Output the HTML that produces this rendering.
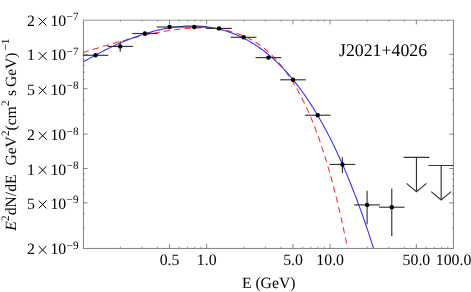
<!DOCTYPE html>
<html><head><meta charset="utf-8"><title>J2021+4026</title>
<style>html,body{margin:0;padding:0;background:#fff;}body{width:471px;height:292px;position:relative;overflow:hidden;font-family:'Liberation Serif', serif;}</style>
</head><body>
<svg width="471" height="292" viewBox="0 0 471 292" style="position:absolute;left:0;top:0;will-change:transform;text-rendering:geometricPrecision;font-family:'Liberation Serif', serif">
<rect x="0" y="0" width="471" height="292" fill="#fff"/>
<clipPath id="c"><rect x="83.2" y="20.0" width="370.3" height="228.3"/></clipPath>
<g clip-path="url(#c)" fill="none">
<path d="M83.20 52.49 L84.20 52.18 L85.20 51.86 L86.20 51.55 L87.20 51.24 L88.20 50.93 L89.20 50.62 L90.20 50.31 L91.20 50.00 L92.20 49.69 L93.20 49.39 L94.20 49.08 L95.20 48.78 L96.20 48.47 L97.20 48.17 L98.20 47.87 L99.20 47.57 L100.20 47.27 L101.20 46.97 L102.20 46.67 L103.20 46.37 L104.20 46.08 L105.20 45.78 L106.20 45.49 L107.20 45.20 L108.20 44.90 L109.20 44.61 L110.20 44.33 L111.20 44.04 L112.20 43.75 L113.20 43.47 L114.20 43.18 L115.20 42.90 L116.20 42.62 L117.20 42.34 L118.20 42.06 L119.20 41.79 L120.20 41.51 L121.20 41.24 L122.20 40.96 L123.20 40.69 L124.20 40.42 L125.20 40.16 L126.20 39.89 L127.20 39.63 L128.20 39.36 L129.20 39.10 L130.20 38.84 L131.20 38.59 L132.20 38.33 L133.20 38.08 L134.20 37.83 L135.20 37.58 L136.20 37.33 L137.20 37.08 L138.20 36.84 L139.20 36.60 L140.20 36.36 L141.20 36.12 L142.20 35.88 L143.20 35.65 L144.20 35.42 L145.20 35.19 L146.20 34.96 L147.20 34.74 L148.20 34.52 L149.20 34.30 L150.20 34.08 L151.20 33.87 L152.20 33.66 L153.20 33.45 L154.20 33.25 L155.20 33.04 L156.20 32.84 L157.20 32.65 L158.20 32.45 L159.20 32.26 L160.20 32.07 L161.20 31.89 L162.20 31.71 L163.20 31.53 L164.20 31.35 L165.20 31.18 L166.20 31.01 L167.20 30.85 L168.20 30.69 L169.20 30.53 L170.20 30.37 L171.20 30.22 L172.20 30.08 L173.20 29.93 L174.20 29.80 L175.20 29.66 L176.20 29.53 L177.20 29.40 L178.20 29.28 L179.20 29.17 L180.20 29.05 L181.20 28.94 L182.20 28.84 L183.20 28.74 L184.20 28.64 L185.20 28.55 L186.20 28.47 L187.20 28.39 L188.20 28.32 L189.20 28.25 L190.20 28.18 L191.20 28.12 L192.20 28.07 L193.20 28.02 L194.20 27.98 L195.20 27.95 L196.20 27.92 L197.20 27.89 L198.20 27.87 L199.20 27.86 L200.20 27.86 L201.20 27.86 L202.20 27.87 L203.20 27.88 L204.20 27.90 L205.20 27.93 L206.20 27.97 L207.20 28.01 L208.20 28.06 L209.20 28.12 L210.20 28.19 L211.20 28.26 L212.20 28.34 L213.20 28.43 L214.20 28.53 L215.20 28.64 L216.20 28.76 L217.20 28.88 L218.20 29.01 L219.20 29.16 L220.20 29.31 L221.20 29.47 L222.20 29.64 L223.20 29.82 L224.20 30.01 L225.20 30.21 L226.20 30.42 L227.20 30.65 L228.20 30.88 L229.20 31.12 L230.20 31.38 L231.20 31.64 L232.20 31.92 L233.20 32.21 L234.20 32.51 L235.20 32.83 L236.20 33.15 L237.20 33.49 L238.20 33.85 L239.20 34.21 L240.20 34.59 L241.20 34.98 L242.20 35.39 L243.20 35.81 L244.20 36.25 L245.20 36.70 L246.20 37.16 L247.20 37.64 L248.20 38.14 L249.20 38.65 L250.20 39.18 L251.20 39.72 L252.20 40.29 L253.20 40.86 L254.20 41.46 L255.20 42.07 L256.20 42.71 L257.20 43.36 L258.20 44.03 L259.20 44.71 L260.20 45.42 L261.20 46.15 L262.20 46.90 L263.20 47.67 L264.20 48.46 L265.20 49.27 L266.20 50.10 L267.20 50.95 L268.20 51.83 L269.20 52.73 L270.20 53.66 L271.20 54.60 L272.20 55.58 L273.20 56.57 L274.20 57.60 L275.20 58.64 L276.20 59.72 L277.20 60.82 L278.20 61.95 L279.20 63.10 L280.20 64.29 L281.20 65.50 L282.20 66.74 L283.20 68.02 L284.20 69.32 L285.20 70.65 L286.20 72.02 L287.20 73.41 L288.20 74.84 L289.20 76.31 L290.20 77.80 L291.20 79.34 L292.20 80.90 L293.20 82.51 L294.20 84.15 L295.20 85.82 L296.20 87.54 L297.20 89.29 L298.20 91.09 L299.20 92.92 L300.20 94.79 L301.20 96.71 L302.20 98.67 L303.20 100.67 L304.20 102.71 L305.20 104.80 L306.20 106.94 L307.20 109.12 L308.20 111.35 L309.20 113.63 L310.20 115.96 L311.20 118.33 L312.20 120.76 L313.20 123.24 L314.20 125.78 L315.20 128.36 L316.20 131.01 L317.20 133.71 L318.20 136.46 L319.20 139.28 L320.20 142.15 L321.20 145.08 L322.20 148.08 L323.20 151.13 L324.20 154.26 L325.20 157.44 L326.20 160.69 L327.20 164.01 L328.20 167.40 L329.20 170.86 L330.20 174.39 L331.20 177.99 L332.20 181.67 L333.20 185.42 L334.20 189.25 L335.20 193.15 L336.20 197.14 L337.20 201.21 L338.20 205.36 L339.20 209.59 L340.20 213.91 L341.20 218.32 L342.20 222.81 L343.20 227.40 L344.20 232.08 L345.20 236.85 L346.20 241.72 L347.20 246.69 L347.52 248.30" stroke="#ff2a2a" stroke-width="1.05" stroke-dasharray="6.3 4.18" stroke-dashoffset="0.4"/>
<path d="M83.20 62.02 L84.20 61.44 L85.20 60.86 L86.20 60.28 L87.20 59.71 L88.20 59.15 L89.20 58.59 L90.20 58.03 L91.20 57.47 L92.20 56.92 L93.20 56.37 L94.20 55.82 L95.20 55.28 L96.20 54.75 L97.20 54.21 L98.20 53.68 L99.20 53.16 L100.20 52.63 L101.20 52.12 L102.20 51.60 L103.20 51.09 L104.20 50.58 L105.20 50.08 L106.20 49.58 L107.20 49.09 L108.20 48.60 L109.20 48.11 L110.20 47.63 L111.20 47.15 L112.20 46.68 L113.20 46.21 L114.20 45.75 L115.20 45.29 L116.20 44.83 L117.20 44.38 L118.20 43.93 L119.20 43.49 L120.20 43.05 L121.20 42.61 L122.20 42.19 L123.20 41.76 L124.20 41.34 L125.20 40.93 L126.20 40.51 L127.20 40.11 L128.20 39.71 L129.20 39.31 L130.20 38.92 L131.20 38.53 L132.20 38.15 L133.20 37.78 L134.20 37.40 L135.20 37.04 L136.20 36.68 L137.20 36.32 L138.20 35.97 L139.20 35.62 L140.20 35.28 L141.20 34.95 L142.20 34.62 L143.20 34.29 L144.20 33.97 L145.20 33.66 L146.20 33.35 L147.20 33.05 L148.20 32.75 L149.20 32.46 L150.20 32.18 L151.20 31.90 L152.20 31.62 L153.20 31.35 L154.20 31.09 L155.20 30.84 L156.20 30.59 L157.20 30.34 L158.20 30.10 L159.20 29.87 L160.20 29.64 L161.20 29.42 L162.20 29.21 L163.20 29.00 L164.20 28.80 L165.20 28.61 L166.20 28.42 L167.20 28.24 L168.20 28.06 L169.20 27.89 L170.20 27.73 L171.20 27.58 L172.20 27.43 L173.20 27.29 L174.20 27.15 L175.20 27.02 L176.20 26.90 L177.20 26.79 L178.20 26.68 L179.20 26.58 L180.20 26.49 L181.20 26.40 L182.20 26.33 L183.20 26.26 L184.20 26.19 L185.20 26.14 L186.20 26.09 L187.20 26.05 L188.20 26.01 L189.20 25.99 L190.20 25.97 L191.20 25.96 L192.20 25.96 L193.20 25.97 L194.20 25.98 L195.20 26.00 L196.20 26.03 L197.20 26.07 L198.20 26.12 L199.20 26.18 L200.20 26.24 L201.20 26.31 L202.20 26.39 L203.20 26.48 L204.20 26.58 L205.20 26.69 L206.20 26.80 L207.20 26.93 L208.20 27.06 L209.20 27.20 L210.20 27.35 L211.20 27.51 L212.20 27.68 L213.20 27.86 L214.20 28.05 L215.20 28.25 L216.20 28.46 L217.20 28.67 L218.20 28.90 L219.20 29.14 L220.20 29.38 L221.20 29.64 L222.20 29.90 L223.20 30.18 L224.20 30.47 L225.20 30.76 L226.20 31.07 L227.20 31.39 L228.20 31.71 L229.20 32.05 L230.20 32.40 L231.20 32.76 L232.20 33.13 L233.20 33.51 L234.20 33.90 L235.20 34.31 L236.20 34.72 L237.20 35.14 L238.20 35.58 L239.20 36.03 L240.20 36.49 L241.20 36.96 L242.20 37.44 L243.20 37.94 L244.20 38.44 L245.20 38.96 L246.20 39.49 L247.20 40.03 L248.20 40.59 L249.20 41.15 L250.20 41.73 L251.20 42.33 L252.20 42.93 L253.20 43.55 L254.20 44.18 L255.20 44.82 L256.20 45.48 L257.20 46.14 L258.20 46.83 L259.20 47.52 L260.20 48.23 L261.20 48.95 L262.20 49.69 L263.20 50.44 L264.20 51.20 L265.20 51.98 L266.20 52.77 L267.20 53.57 L268.20 54.39 L269.20 55.23 L270.20 56.08 L271.20 56.94 L272.20 57.82 L273.20 58.71 L274.20 59.62 L275.20 60.54 L276.20 61.48 L277.20 62.43 L278.20 63.40 L279.20 64.38 L280.20 65.38 L281.20 66.40 L282.20 67.43 L283.20 68.48 L284.20 69.54 L285.20 70.62 L286.20 71.72 L287.20 72.83 L288.20 73.96 L289.20 75.11 L290.20 76.27 L291.20 77.45 L292.20 78.65 L293.20 79.87 L294.20 81.10 L295.20 82.35 L296.20 83.62 L297.20 84.90 L298.20 86.20 L299.20 87.53 L300.20 88.87 L301.20 90.23 L302.20 91.60 L303.20 93.00 L304.20 94.41 L305.20 95.85 L306.20 97.30 L307.20 98.77 L308.20 100.26 L309.20 101.78 L310.20 103.31 L311.20 104.86 L312.20 106.43 L313.20 108.02 L314.20 109.63 L315.20 111.26 L316.20 112.92 L317.20 114.59 L318.20 116.29 L319.20 118.00 L320.20 119.74 L321.20 121.50 L322.20 123.28 L323.20 125.08 L324.20 126.91 L325.20 128.76 L326.20 130.63 L327.20 132.52 L328.20 134.43 L329.20 136.37 L330.20 138.33 L331.20 140.32 L332.20 142.33 L333.20 144.36 L334.20 146.41 L335.20 148.49 L336.20 150.60 L337.20 152.72 L338.20 154.88 L339.20 157.05 L340.20 159.26 L341.20 161.48 L342.20 163.74 L343.20 166.01 L344.20 168.32 L345.20 170.65 L346.20 173.01 L347.20 175.39 L348.20 177.80 L349.20 180.23 L350.20 182.70 L351.20 185.19 L352.20 187.71 L353.20 190.25 L354.20 192.83 L355.20 195.43 L356.20 198.06 L357.20 200.72 L358.20 203.40 L359.20 206.12 L360.20 208.86 L361.20 211.64 L362.20 214.44 L363.20 217.28 L364.20 220.14 L365.20 223.04 L366.20 225.96 L367.20 228.92 L368.20 231.91 L369.20 234.93 L370.20 237.98 L371.20 241.06 L372.20 244.17 L373.20 247.32 L373.51 248.30" stroke="#2a2aff" stroke-width="1.05"/>
</g>
<g stroke="#333" stroke-width="1.15" fill="none">
<path d="M82.74 55.3 H108.34"/>
<path d="M107.43 46.4 H133.03"/>
<path d="M120.23 41.2 V51.8"/>
<path d="M132.12 33.5 H157.72"/>
<path d="M156.80 27.0 H182.40"/>
<path d="M181.49 27.0 H207.09"/>
<path d="M206.18 28.4 H231.78"/>
<path d="M230.86 37.3 H256.46"/>
<path d="M255.55 57.6 H281.15"/>
<path d="M280.24 79.8 H305.84"/>
<path d="M304.92 115.2 H330.52"/>
<path d="M329.61 164.45 H355.21"/>
<path d="M342.41 157.2 V172.9"/>
<path d="M354.30 204.9 H379.90"/>
<path d="M367.10 190.8 V224.2"/>
<path d="M378.98 207.2 H404.58"/>
<path d="M391.78 188.6 V236.0"/>
<path d="M403.67 157.3 H429.27 M416.47 157.3 V191.70000000000002 M406.47 183.4 L416.47 191.70000000000002 L426.47 183.4"/>
<path d="M428.36 165.5 H453.50 M441.16 165.5 V199.9 M431.16 191.6 L441.16 199.9 L451.16 191.6"/>
</g>
<circle cx="95.54" cy="55.3" r="2.2" fill="#000"/>
<circle cx="120.23" cy="46.4" r="2.2" fill="#000"/>
<circle cx="144.92" cy="33.5" r="2.2" fill="#000"/>
<circle cx="169.60" cy="27.0" r="2.2" fill="#000"/>
<circle cx="194.29" cy="27.0" r="2.2" fill="#000"/>
<circle cx="218.98" cy="28.4" r="2.2" fill="#000"/>
<circle cx="243.66" cy="37.3" r="2.2" fill="#000"/>
<circle cx="268.35" cy="57.6" r="2.2" fill="#000"/>
<circle cx="293.04" cy="79.8" r="2.2" fill="#000"/>
<circle cx="317.72" cy="115.2" r="2.2" fill="#000"/>
<circle cx="342.41" cy="164.45" r="2.2" fill="#000"/>
<circle cx="367.10" cy="204.9" r="2.2" fill="#000"/>
<circle cx="391.78" cy="207.2" r="2.2" fill="#000"/>
<path d="M83.45 19.849999999999998 V248.79999999999998 M453.4 19.849999999999998 V248.79999999999998" stroke="#606060" stroke-width="0.8" fill="none"/>
<path d="M83.45 20.2 H453.4" stroke="#858585" stroke-width="0.85" fill="none"/>
<path d="M83.45 248.45 H453.4" stroke="#606060" stroke-width="0.8" fill="none"/>
<path d="M169.48 248.3 v-4.4 M169.48 20.0 v4.4 M206.63 248.3 v-4.4 M206.63 20.0 v4.4 M292.91 248.3 v-4.4 M292.91 20.0 v4.4 M330.07 248.3 v-4.4 M330.07 20.0 v4.4 M416.34 248.3 v-4.4 M416.34 20.0 v4.4 M83.2 54.36 h4.4 M453.5 54.36 h-4.4 M83.2 88.73 h4.4 M453.5 88.73 h-4.4 M83.2 134.15 h4.4 M453.5 134.15 h-4.4 M83.2 168.51 h4.4 M453.5 168.51 h-4.4 M83.2 202.88 h4.4 M453.5 202.88 h-4.4" stroke="#555" stroke-width="0.7" fill="none"/>
<path d="M120.36 248.3 v-1.6 M120.36 20.0 v1.6 M142.09 248.3 v-1.6 M142.09 20.0 v1.6 M157.51 248.3 v-1.6 M157.51 20.0 v1.6 M179.25 248.3 v-1.6 M179.25 20.0 v1.6 M187.51 248.3 v-1.6 M187.51 20.0 v1.6 M194.67 248.3 v-1.6 M194.67 20.0 v1.6 M200.99 248.3 v-1.6 M200.99 20.0 v1.6 M243.79 248.3 v-1.6 M243.79 20.0 v1.6 M265.53 248.3 v-1.6 M265.53 20.0 v1.6 M280.95 248.3 v-1.6 M280.95 20.0 v1.6 M302.68 248.3 v-1.6 M302.68 20.0 v1.6 M310.95 248.3 v-1.6 M310.95 20.0 v1.6 M318.10 248.3 v-1.6 M318.10 20.0 v1.6 M324.42 248.3 v-1.6 M324.42 20.0 v1.6 M367.22 248.3 v-1.6 M367.22 20.0 v1.6 M388.96 248.3 v-1.6 M388.96 20.0 v1.6 M404.38 248.3 v-1.6 M404.38 20.0 v1.6 M426.12 248.3 v-1.6 M426.12 20.0 v1.6 M434.38 248.3 v-1.6 M434.38 20.0 v1.6 M441.54 248.3 v-1.6 M441.54 20.0 v1.6 M447.85 248.3 v-1.6 M447.85 20.0 v1.6 M83.2 228.20 h1.6 M453.5 228.20 h-1.6 M83.2 213.94 h1.6 M453.5 213.94 h-1.6 M83.2 193.84 h1.6 M453.5 193.84 h-1.6 M83.2 186.19 h1.6 M453.5 186.19 h-1.6 M83.2 179.57 h1.6 M453.5 179.57 h-1.6 M83.2 173.74 h1.6 M453.5 173.74 h-1.6 M83.2 114.05 h1.6 M453.5 114.05 h-1.6 M83.2 99.79 h1.6 M453.5 99.79 h-1.6 M83.2 79.69 h1.6 M453.5 79.69 h-1.6 M83.2 72.04 h1.6 M453.5 72.04 h-1.6 M83.2 65.42 h1.6 M453.5 65.42 h-1.6 M83.2 59.59 h1.6 M453.5 59.59 h-1.6" stroke="#666" stroke-width="0.65" fill="none"/>
<text x="169.58" y="264.8" font-size="15.8" text-anchor="middle">0.5</text>
<text x="206.73" y="264.8" font-size="15.8" text-anchor="middle">1.0</text>
<text x="293.01" y="264.8" font-size="15.8" text-anchor="middle">5.0</text>
<text x="330.17" y="264.8" font-size="15.8" text-anchor="middle">10.0</text>
<text x="416.44" y="264.8" font-size="15.8" text-anchor="middle">50.0</text>
<text x="453.60" y="264.8" font-size="15.8" text-anchor="middle">100.0</text>
<text x="27.1" y="26.00" font-size="15.8">2</text>
<path d="M38.7 17.70 l7.8 7.8 m0 -7.8 l-7.8 7.8" stroke="#000" stroke-width="1.0" fill="none"/>
<text x="50.4" y="26.00" font-size="15.8">10</text>
<text x="66.6" y="20.40" font-size="11.2">−7</text>
<text x="27.1" y="60.36" font-size="15.8">1</text>
<path d="M38.7 52.06 l7.8 7.8 m0 -7.8 l-7.8 7.8" stroke="#000" stroke-width="1.0" fill="none"/>
<text x="50.4" y="60.36" font-size="15.8">10</text>
<text x="66.6" y="54.76" font-size="11.2">−7</text>
<text x="27.1" y="94.73" font-size="15.8">5</text>
<path d="M38.7 86.43 l7.8 7.8 m0 -7.8 l-7.8 7.8" stroke="#000" stroke-width="1.0" fill="none"/>
<text x="50.4" y="94.73" font-size="15.8">10</text>
<text x="66.6" y="89.13" font-size="11.2">−8</text>
<text x="27.1" y="140.15" font-size="15.8">2</text>
<path d="M38.7 131.85 l7.8 7.8 m0 -7.8 l-7.8 7.8" stroke="#000" stroke-width="1.0" fill="none"/>
<text x="50.4" y="140.15" font-size="15.8">10</text>
<text x="66.6" y="134.55" font-size="11.2">−8</text>
<text x="27.1" y="174.51" font-size="15.8">1</text>
<path d="M38.7 166.21 l7.8 7.8 m0 -7.8 l-7.8 7.8" stroke="#000" stroke-width="1.0" fill="none"/>
<text x="50.4" y="174.51" font-size="15.8">10</text>
<text x="66.6" y="168.91" font-size="11.2">−8</text>
<text x="27.1" y="208.88" font-size="15.8">5</text>
<path d="M38.7 200.58 l7.8 7.8 m0 -7.8 l-7.8 7.8" stroke="#000" stroke-width="1.0" fill="none"/>
<text x="50.4" y="208.88" font-size="15.8">10</text>
<text x="66.6" y="203.28" font-size="11.2">−9</text>
<text x="27.1" y="254.30" font-size="15.8">2</text>
<path d="M38.7 246.00 l7.8 7.8 m0 -7.8 l-7.8 7.8" stroke="#000" stroke-width="1.0" fill="none"/>
<text x="50.4" y="254.30" font-size="15.8">10</text>
<text x="66.6" y="248.70" font-size="11.2">−9</text>
<text x="339" y="55.5" font-size="17.8">J2021+4026</text>
<text x="241.9" y="287.6" font-size="15.7">E (GeV)</text>
<g transform="translate(16.0,230.7) rotate(-90)">
<text x="0" y="0" font-size="15.6" font-style="italic">E</text>
<text x="9.6" y="-7.2" font-size="11.2">2</text>
<text x="15.5" y="0" font-size="15.6">dN/dE</text>
<text x="65.1" y="0" font-size="15.6">GeV</text>
<text x="94.8" y="-7.2" font-size="11.2">2</text>
<text x="100.2" y="0" font-size="15.6">(cm</text>
<text x="124.8" y="-7.2" font-size="11.2">2</text>
<text x="134.7" y="0" font-size="15.6">s</text>
<text x="143.6" y="0" font-size="15.6">GeV)</text>
<text x="180.2" y="-7.2" font-size="11.2">−1</text>
</g>
</svg>
</body></html>
